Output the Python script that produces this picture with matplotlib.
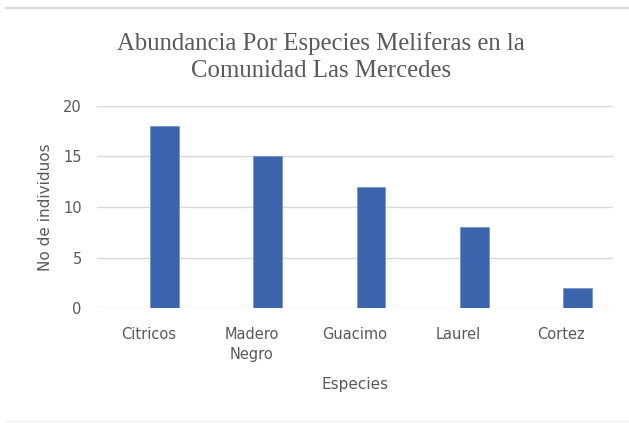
import matplotlib
matplotlib.use("Agg")
from matplotlib import pyplot as plt
from matplotlib.lines import Line2D
import numpy as np

# data
especies = ["Citricos", "Madero\nNegro", "Guacimo", "Laurel", "Cortez"]
individuos = [18, 15, 12, 8, 2]
y_ticks = [0, 5, 10, 15, 20]

TEXT = "#595959"
GRID = "#D9D9D9"
BAR = "#3C64AD"
FONT = "DejaVu Sans"

fig = plt.figure(figsize=(6.29, 4.23), dpi=100)
ax = fig.add_axes([97 / 629, 1 - 308 / 423, 516 / 629, 202 / 423])

x = np.arange(len(especies))
# bars sit a bit right of the category centre, as in the original
ax.bar(x + 0.155, individuos, width=0.28, color=BAR, edgecolor="#6F8FCC",
       linewidth=0.5, zorder=3)

ax.set_xlim(-0.5, len(especies) - 0.5)
ax.set_ylim(0, 20)
ax.set_yticks(y_ticks)
ax.set_xticks(x)
ax.set_xticklabels(especies)
ax.yaxis.grid(True, color=GRID, linewidth=1.0, zorder=0)
for s in ax.spines.values():
    s.set_visible(False)
ax.tick_params(length=0, colors=TEXT, labelsize=10.5)
ax.tick_params(axis="y", pad=11)
ax.tick_params(axis="x", pad=14)
for lab in ax.get_xticklabels() + ax.get_yticklabels():
    lab.set_fontfamily(FONT)
    lab.set_color(TEXT)
    lab.set_linespacing(1.35)

ax.set_xlabel("Especies", fontfamily=FONT, fontsize=11, color=TEXT,
              labelpad=11)
ax.set_ylabel("No de individuos", fontfamily=FONT, fontsize=11, color=TEXT)
ax.yaxis.set_label_coords((53 - 97) / 516, 0.5)

fig.text(321 / 629, 1 - 57 / 423,
         "Abundancia Por Especies Meliferas en la\nComunidad Las Mercedes",
         ha="center", va="center", fontfamily="Liberation Serif",
         fontsize=17.8, color=TEXT, linespacing=1.32)

# light border lines of the chart area
fig.lines.append(Line2D([6 / 629, 1.0], [1 - 8 / 423, 1 - 8 / 423],
                        transform=fig.transFigure, color=GRID, linewidth=1.5))
fig.lines.append(Line2D([6 / 629, 1.0], [1 - 421 / 423, 1 - 421 / 423],
                        transform=fig.transFigure, color="#EEEEEE",
                        linewidth=1.0))

fig.savefig("out.png", dpi=100)
